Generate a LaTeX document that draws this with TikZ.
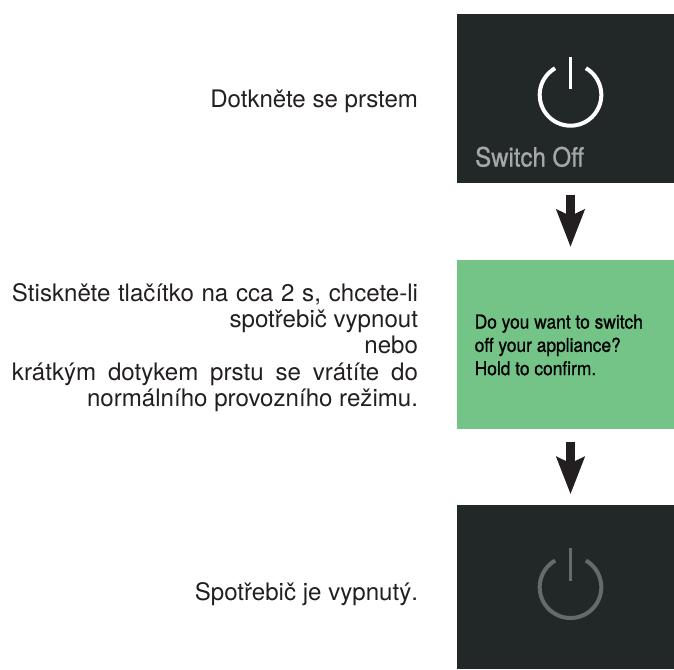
\documentclass[tikz,border=0pt]{standalone}
\usepackage{fontspec}
\usepackage{calc}
\setmainfont{TeX Gyre Heros}
\newfontfamily\narrowfont[FakeStretch=0.905,FakeBold=0.9]{TeX Gyre Heros}
\usetikzlibrary{arrows.meta}
\definecolor{paneldark}{HTML}{222728}
\definecolor{panelgreen}{HTML}{74C487}
\definecolor{switchgrey}{HTML}{A4A9A8}
\definecolor{dimgrey}{HTML}{656B6C}
\definecolor{bodyink}{HTML}{231F20}
\tikzset{
  panel/.style={anchor=north west,minimum width=217pt,inner sep=0pt,outer sep=0pt},
  side/.style={inner sep=0pt,outer sep=0pt,text=bodyink,font=\fontsize{24.1pt}{26.2pt}\selectfont,align=right,anchor=east},
  flow/.style={draw=bodyink,line width=8.6pt,-{Stealth[length=37pt,width=27.5pt,inset=6pt]}},
  powerarc/.style={line width=4pt,line cap=butt},
  powerbar/.style={line width=3pt}
}
\begin{document}
\begin{tikzpicture}[x=1pt,y=-1pt]
\useasboundingbox (0,0) rectangle (674,669);
\node[panel,fill=paneldark,minimum height=169pt] (off) at (457,14) {};
\node[panel,fill=panelgreen,minimum height=169pt] (confirm) at (457,260) {};
\node[panel,fill=paneldark,minimum height=164pt] (dead) at (457,505) {};
% power icon, active
\coordinate (c1) at (570.5,94.9);
\draw[powerarc,white] (c1) ++(60:30.8 and -30.8) arc[start angle=-60,end angle=240,radius=30.8];
\draw[powerbar,white] (570.5,56.7) -- (570.5,89.3);
\node[inner sep=0pt,anchor=base west,text=switchgrey,font=\narrowfont\fontsize{26.5pt}{26.5pt}\selectfont] (swoff) at (475,166.5) {Switch Off};
% power icon, dimmed
\coordinate (c2) at (570.5,587.2);
\draw[powerarc,dimgrey] (c2) ++(60:30.8 and -30.8) arc[start angle=-60,end angle=240,radius=30.8];
\draw[powerbar,dimgrey] (570.5,547.7) -- (570.5,581);
\node[inner sep=0pt,anchor=west,align=left,text=black,font=\narrowfont\fontsize{19.2pt}{23.3pt}\selectfont] (question) at (474.5,345) {Do you want to switch\\off your appliance?\\Hold to confirm.};
% side texts
\node[side] (t1) at (418,101) {Dotkněte se prstem};
\node[side] (t2) at (418,347.5) {\makebox[406pt][s]{Stiskněte tlačítko na cca 2 s, chcete-li}\\spotřebič vypnout\\nebo\\\makebox[406pt][s]{krátkým dotykem prstu se vrátíte do}\\normálního provozního režimu.};
\node[side] (t3) at (418,594.5) {Spotřebič je vypnutý.};
% arrows
\draw[flow] ([xshift=5pt,yshift=-11.7pt]off.south) -- ([xshift=5pt,yshift=13pt]confirm.north);
\draw[flow] ([xshift=5pt,yshift=-12.7pt]confirm.south) -- ([xshift=5pt,yshift=10.7pt]dead.north);
\end{tikzpicture}
\end{document}
